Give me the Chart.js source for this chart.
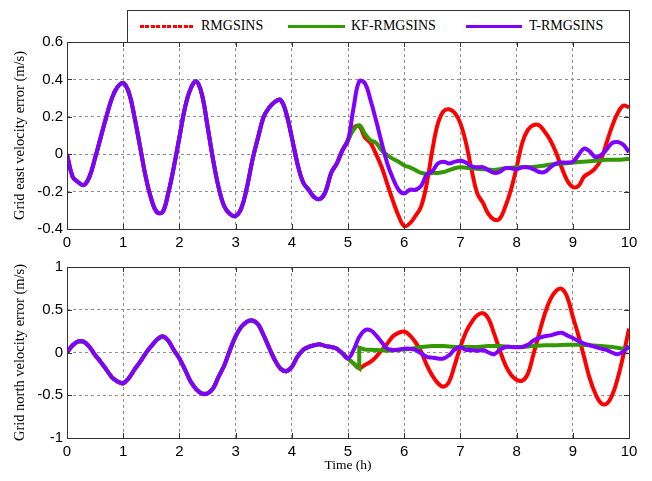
<!DOCTYPE html>
<html lang="en">
<head>
  <meta charset="UTF-8" />
  <title>Velocity error</title>
  <script src="https://cdn.jsdelivr.net/npm/chart.js"></script>
  <style>
    html, body { margin: 0; padding: 0; background: #fff; }
    #wrap { position: relative; width: 652px; height: 481px; overflow: hidden; }
    #wrap canvas { position: absolute; left: 0; }
    #legend {
      position: absolute; left: 127px; top: 10px; width: 503px; height: 33px;
      box-sizing: border-box; border: 1px solid #333; background: #fff; z-index: 2;
    }
    #legend .sw { position: absolute; top: 14px; height: 3px; }
    #legend .lb { position: absolute; top: 7px; line-height: 16px; font: 14px "Liberation Serif", "Times New Roman", serif; color: #000; white-space: nowrap; }
  </style>
</head>
<body>
<div id="wrap">
  <canvas id="east" width="652" height="250" style="top:0"></canvas>
  <canvas id="north" width="652" height="231" style="top:250px"></canvas>
  <div id="legend">
    <span class="sw" style="left:12px;width:53px;background:repeating-linear-gradient(90deg,#ff0000 0 4px,transparent 4px 5.5px)"></span>
    <span class="lb" style="left:73px">RMGSINS</span>
    <span class="sw" style="left:160px;width:57px;background:#339900"></span>
    <span class="lb" style="left:223px">KF-RMGSINS</span>
    <span class="sw" style="left:338px;width:56px;background:#7f00ff"></span>
    <span class="lb" style="left:401px">T-RMGSINS</span>
  </div>
</div>

<script>
  // time (h): shared part before the methods split, and the tail after it
  const tCommon = [0,0.1,0.2,0.3,0.4,0.5,0.6,0.7,0.8,0.9,1,1.1,1.2,1.3,1.4,1.5,1.6,1.7,1.8,1.9,2,2.1,2.2,2.3,2.4,2.5,2.6,2.7,2.8,2.9,3,3.1,3.2,3.3,3.4,3.5,3.6,3.7,3.8,3.9,4,4.1,4.2,4.3,4.4,4.5,4.6,4.7,4.8,4.9,5];
  const tTail = [5.1,5.2,5.3,5.4,5.5,5.6,5.7,5.8,5.9,6,6.1,6.2,6.3,6.4,6.5,6.6,6.7,6.8,6.9,7,7.1,7.2,7.3,7.4,7.5,7.6,7.7,7.8,7.9,8,8.1,8.2,8.3,8.4,8.5,8.6,8.7,8.8,8.9,9,9.1,9.2,9.3,9.4,9.5,9.6,9.7,9.8,9.9,10];

  // east velocity error (m/s)
  const eastCommon = [0,-0.12,-0.15,-0.165,-0.12,-0.02,0.09,0.2,0.3,0.36,0.38,0.33,0.2,0.04,-0.12,-0.24,-0.31,-0.31,-0.21,-0.07,0.09,0.25,0.35,0.39,0.32,0.15,-0.03,-0.18,-0.28,-0.32,-0.33,-0.29,-0.18,-0.03,0.09,0.2,0.25,0.28,0.29,0.22,0.09,-0.05,-0.15,-0.19,-0.23,-0.24,-0.2,-0.1,-0.05,0.02,0.075];
  const eastRmgTail = [0.14,0.15,0.09,0.06,0,-0.07,-0.16,-0.25,-0.33,-0.385,-0.37,-0.33,-0.28,-0.16,0.02,0.165,0.23,0.24,0.22,0.165,0.06,-0.085,-0.21,-0.26,-0.32,-0.35,-0.345,-0.28,-0.19,-0.07,0.06,0.13,0.155,0.155,0.12,0.075,0.01,-0.07,-0.14,-0.175,-0.17,-0.12,-0.1,-0.075,-0.03,0.06,0.15,0.22,0.26,0.25];
  const eastKfTail = [0.13,0.155,0.11,0.075,0.06,0.02,-0.005,-0.025,-0.04,-0.06,-0.07,-0.085,-0.1,-0.105,-0.1,-0.1,-0.095,-0.085,-0.075,-0.07,-0.072,-0.075,-0.078,-0.08,-0.082,-0.085,-0.08,-0.075,-0.073,-0.07,-0.07,-0.07,-0.068,-0.065,-0.06,-0.055,-0.052,-0.05,-0.048,-0.045,-0.042,-0.04,-0.038,-0.035,-0.033,-0.03,-0.03,-0.03,-0.028,-0.025];
  const eastTTail = [0.25,0.39,0.38,0.29,0.18,0.06,-0.05,-0.13,-0.19,-0.21,-0.19,-0.19,-0.17,-0.11,-0.09,-0.05,-0.04,-0.05,-0.04,-0.035,-0.045,-0.065,-0.07,-0.07,-0.085,-0.1,-0.095,-0.075,-0.075,-0.08,-0.07,-0.07,-0.08,-0.095,-0.095,-0.07,-0.05,-0.045,-0.045,-0.04,-0.005,0.03,0.015,-0.015,-0.005,0.025,0.06,0.065,0.05,0.01];

  // north velocity error (m/s)
  const northCommon = [0,0.085,0.13,0.125,0.065,-0.03,-0.11,-0.2,-0.29,-0.34,-0.36,-0.3,-0.2,-0.11,-0.01,0.075,0.15,0.19,0.14,0.03,-0.07,-0.2,-0.34,-0.43,-0.48,-0.48,-0.42,-0.28,-0.15,0.03,0.19,0.3,0.36,0.375,0.33,0.2,0.05,-0.09,-0.19,-0.22,-0.17,-0.05,0.03,0.065,0.085,0.095,0.075,0.065,0.045,-0.01,-0.07];
  const northRmgTail = [-0.13,-0.185,-0.145,-0.11,-0.05,0.03,0.105,0.19,0.23,0.245,0.2,0.12,0.01,-0.145,-0.27,-0.36,-0.4,-0.34,-0.145,0.065,0.24,0.355,0.435,0.46,0.395,0.22,0.03,-0.145,-0.26,-0.32,-0.33,-0.25,-0.02,0.22,0.45,0.62,0.72,0.745,0.65,0.42,0.2,-0.05,-0.3,-0.48,-0.59,-0.6,-0.5,-0.3,-0.03,0.28];
  const northTTail = [0.03,0.18,0.26,0.26,0.2,0.12,0.045,0.03,0.035,0.045,0.045,0.03,-0.01,-0.05,-0.06,-0.07,-0.07,-0.03,0.035,0.06,0.03,0.03,0.02,0.03,0,-0.02,0.03,0.065,0.065,0.06,0.065,0.09,0.14,0.17,0.19,0.2,0.22,0.23,0.2,0.17,0.135,0.105,0.085,0.065,0.045,0.03,0,-0.02,0.01,0.075];
  // KF jumps at 5.2 h, so it keeps its own time list
  const tKfNorth = [5.1,5.2,5.2,5.3,5.5,5.7,5.9,6.1,6.3,6.5,6.7,6.9,7.1,7.3,7.5,7.7,7.9,8.1,8.3,8.5,8.7,8.9,9.1,9.3,9.5,9.7,9.9,10];
  const northKfTail = [-0.13,-0.185,0.055,0.035,0.03,0.02,0.03,0.04,0.065,0.075,0.075,0.065,0.065,0.065,0.075,0.075,0.065,0.065,0.075,0.085,0.085,0.09,0.09,0.085,0.075,0.065,0.045,0.055];

  const RED = '#ff0000', GREEN = '#339900', PURPLE = '#7f00ff';
  const pts = (xs, ys) => xs.map((x, i) => ({ x: x, y: ys[i] }));

  function line(data, color, order, tension) {
    return { data: data, borderColor: color, borderWidth: 4, pointRadius: 0,
             tension: tension, order: order, fill: false };
  }

  // box + inward ticks like the original figure
  const frame = {
    id: 'frame',
    afterDraw(chart) {
      const { ctx, chartArea: a, scales } = chart;
      ctx.save();
      ctx.strokeStyle = '#333';
      ctx.lineWidth = 1;
      ctx.strokeRect(a.left + 0.5, a.top + 0.5, a.right - a.left, a.bottom - a.top);
      ctx.beginPath();
      scales.x.ticks.forEach(t => {
        const px = Math.round(scales.x.getPixelForValue(t.value)) + 0.5;
        ctx.moveTo(px, a.top); ctx.lineTo(px, a.top + 5);
        ctx.moveTo(px, a.bottom); ctx.lineTo(px, a.bottom - 5);
      });
      scales.y.ticks.forEach(t => {
        const py = Math.round(scales.y.getPixelForValue(t.value)) + 0.5;
        ctx.moveTo(a.left, py); ctx.lineTo(a.left + 5, py);
        ctx.moveTo(a.right, py); ctx.lineTo(a.right - 5, py);
      });
      ctx.stroke();
      ctx.restore();
    }
  };

  const tickFont = { family: '"Liberation Sans", Arial, sans-serif', size: 15 };
  const yTitleFont = { family: '"Liberation Serif", "Times New Roman", serif', size: 14.5 };
  const xTitleFont = { family: '"Liberation Serif", "Times New Roman", serif', size: 13.5 };

  function makeChart(id, datasets, yMin, yMax, yStep, yTitle, padTop, xHeight, xTitle) {
    return new Chart(document.getElementById(id), {
      type: 'line',
      data: { datasets: datasets },
      plugins: [frame],
      options: {
        responsive: false, animation: false, devicePixelRatio: 1,
        layout: { padding: { top: padTop, right: 23, left: 0, bottom: 0 } },
        plugins: { legend: { display: false }, tooltip: { enabled: false } },
        scales: {
          x: {
            type: 'linear', min: 0, max: 10,
            ticks: { stepSize: 1, color: '#000', font: tickFont, padding: 5, maxRotation: 0 },
            grid: { color: '#8f8f8f', drawTicks: false },
            border: { display: false, dash: [3, 3] },
            title: { display: !!xTitle, text: xTitle || '', color: '#000', font: xTitleFont, padding: { top: 0, bottom: 7 } },
            afterFit(s) { s.height = xHeight; }
          },
          y: {
            min: yMin, max: yMax,
            ticks: { stepSize: yStep, color: '#000', font: tickFont, padding: 4,
                     callback: v => String(parseFloat(Number(v).toFixed(2))) },
            grid: { color: '#8f8f8f', drawTicks: false },
            border: { display: false, dash: [3, 3] },
            title: { display: true, text: yTitle, color: '#000', font: yTitleFont, padding: { top: 11, bottom: 0 } },
            afterFit(s) { s.width = 67; }
          }
        }
      }
    });
  }

  const tAll = tCommon.concat(tTail);

  makeChart('east', [
    line(pts(tAll, eastCommon.concat(eastRmgTail)), RED, 2, 0.4),
    line(pts(tAll, eastCommon.concat(eastKfTail)), GREEN, 1, 0.4),
    line(pts(tAll, eastCommon.concat(eastTTail)), PURPLE, 0, 0.4)
  ], -0.4, 0.6, 0.2, 'Grid east velocity error (m/s)', 42, 21, null);

  makeChart('north', [
    line(pts(tAll, northCommon.concat(northRmgTail)), RED, 2, 0.4),
    line(pts(tCommon.concat(tKfNorth), northCommon.concat(northKfTail)), GREEN, 1, 0),
    line(pts(tAll, northCommon.concat(northTTail)), PURPLE, 0, 0.4)
  ], -1, 1, 0.5, 'Grid north velocity error (m/s)', 17, 43, 'Time (h)');
</script>
</body>
</html>
